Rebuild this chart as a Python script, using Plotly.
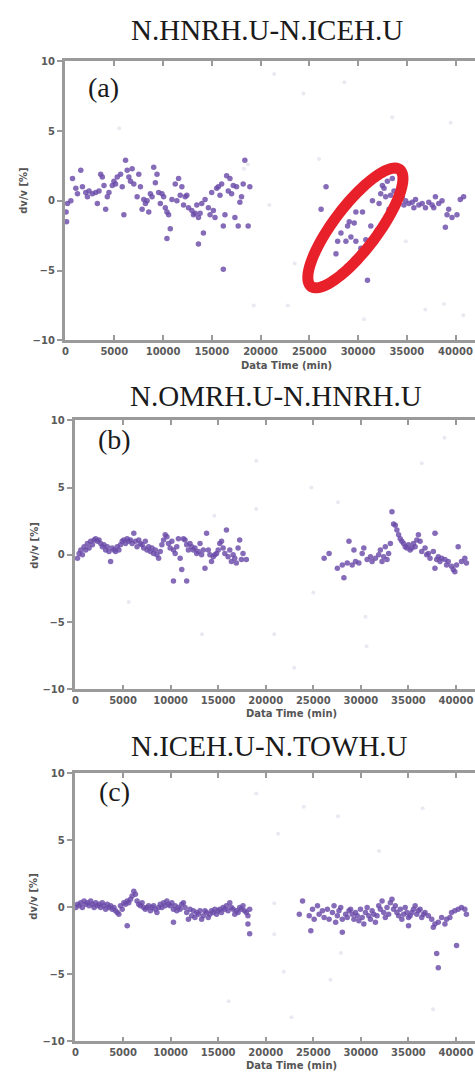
import numpy as np
import plotly.graph_objects as go

W, H = 475, 1077

panel_titles = ["N.HNRH.U-N.ICEH.U", "N.OMRH.U-N.HNRH.U", "N.ICEH.U-N.TOWH.U"]
panel_tags = ["(a)", "(b)", "(c)"]
x_title = "Data Time (min)"
y_title = "dv/v [%]"
x_tickvals = [0, 5000, 10000, 15000, 20000, 25000, 30000, 35000, 40000]
y_tickvals = [-10, -5, 0, 5, 10]

# ---- panel (a) data: (time [min], dv/v [%]) ----
a_points = [
    (200, -0.2), (50, -0.8), (100, -1.5), (540, 0.0), (710, 1.6), (1050, 0.9), (1560, 2.2), (1220, 0.5),
    (1730, 1.0), (2070, 0.6), (2240, 0.3), (2410, 0.7), (2750, 0.5), (3090, 0.6), (3260, -0.2), (3430, 0.7),
    (3600, 1.9), (3770, 1.7), (3940, 1.1), (4110, -0.6), (4280, 0.3), (4450, 0.6), (4790, 1.1), (4960, 1.4),
    (5130, 1.2), (5300, 1.7), (5640, 1.9), (5810, 1.0), (5980, -1.0), (6150, 2.9), (6320, 2.2), (6490, 1.7),
    (6660, 1.4), (6830, 2.3), (7000, 1.2), (7340, 0.3), (7510, 1.9), (7680, 1.0), (7850, -0.6), (8020, 0.1),
    (8190, -0.2), (8360, 0.0), (8530, -0.8), (8700, 0.5), (8870, 0.3), (9040, 2.4), (9210, 1.3), (9380, 1.9),
    (9550, 0.6), (9720, -0.2), (9890, 0.5), (10060, 0.3), (10230, -0.5), (10400, -0.8), (10570, -1.0),
    (10740, -2.0), (10400, -2.7), (10910, 0.1), (11250, 1.2), (11420, 0.0), (11590, 1.6), (11760, 0.4),
    (11930, 1.0), (12100, -0.3), (12270, 0.3), (12440, 0.4), (12610, -0.5), (12950, -0.7), (13120, -1.0),
    (13290, -0.9), (13460, -0.3), (13630, -3.1), (13630, -1.2), (13800, -0.9), (13970, -0.2), (14140, -2.3),
    (14310, 0.1), (14650, -0.5), (14820, -1.0), (14990, 0.6), (15160, -0.7), (15330, -1.2), (15500, 0.9),
    (15670, 1.0), (15840, 0.4), (16010, 1.2), (16180, -1.8), (16350, -1.0), (16520, 1.8), (16690, 0.7),
    (16860, 1.6), (17030, 0.5), (17200, 1.1), (17370, -1.2), (17540, 1.0), (17710, -1.8), (17880, -0.1),
    (18050, 0.3), (18220, 1.2), (18390, 2.9), (18730, -1.8), (18900, 1.0), (16180, -4.9),
    (26720, 1.0), (26210, -0.6), (29100, -1.5), (28930, -1.8), (29610, -1.6), (29780, -0.8), (29270, -2.6),
    (28250, -2.3), (27910, -2.9), (28760, -2.9), (29780, -2.9), (30290, -3.4), (30800, -2.8), (30460, -0.8),
    (31310, -1.8), (31480, 0.0), (31990, -2.1), (32160, -0.2), (32330, 0.5), (32500, 1.1), (32670, 0.9),
    (32840, 0.3), (33010, 1.4), (33350, 0.4), (33520, 1.6), (33690, 0.7), (33180, -0.6), (30970, -5.7),
    (28420, -5.1), (27740, -3.8), (33860, -0.5), (34540, 0.3), (34880, 0.0), (35220, -0.2), (35560, -0.1),
    (35900, 0.1), (36240, -0.3), (36580, -0.2), (36920, -0.5), (37260, -0.1), (37600, -0.3), (37940, 0.3),
    (38280, -0.2), (38620, 0.0), (39130, -1.0), (39300, -0.6), (39640, -1.2), (40150, -1.0), (40490, 0.1),
    (40830, 0.3), (38960, -1.9), (34200, 0.1), (34710, -0.3), (35730, -0.5), (37770, -0.5),
]
a_faint = [
    (5500, 5.2), (19300, -7.5), (20900, -0.3), (21400, 9.1), (28600, 8.5), (33500, 6.0), (39500, 5.6),
    (34900, -2.9), (38800, -7.4), (36900, -7.8), (22800, -7.5), (40800, -8.2), (24400, 7.7), (30600, -8.5),
    (18300, 2.3), (18700, 2.6), (26000, 3.0), (23500, -4.5),
]

# ---- panel (b) data ----
b_points = [
    (210, -0.25), (380, 0.1), (560, 0.35), (730, 0.0), (900, 0.6), (1080, 0.35), (1250, 0.85), (1430, 0.5),
    (1600, 1.0), (1780, 0.75), (1950, 1.1), (2120, 1.2), (2300, 1.0), (2470, 1.1), (2650, 0.85), (2820, 0.6),
    (2990, 0.75), (3170, 0.35), (3340, 0.6), (3520, 0.25), (3690, -0.5), (3860, 0.5), (4040, 0.35), (4210, 0.25),
    (4390, 0.6), (4560, 0.35), (4730, 0.75), (4910, 1.0), (5080, 1.1), (5260, 0.85), (5430, 1.2), (5600, 1.0),
    (5780, 1.1), (5950, 0.85), (6130, 1.6), (6300, 1.0), (6470, 0.6), (6650, 1.1), (6820, 0.85), (7000, 0.75),
    (7170, 0.5), (7340, 1.0), (7520, 0.35), (7690, 0.6), (7870, 0.25), (8040, 0.5), (8210, 0.1), (8390, 0.35),
    (8560, 0.0), (8740, -0.25), (8910, 0.25), (9080, 0.75), (9260, 1.1), (9430, 1.5), (9610, 1.35), (9780, 0.85),
    (9950, 0.5), (10130, 1.0), (10300, -1.95), (10300, 0.35), (10480, 0.1), (10650, 0.6), (10820, 1.2),
    (11000, -0.25), (11170, -1.1), (11350, 1.2), (11520, 1.1), (11690, -1.95), (11690, 0.75), (11870, 0.35),
    (12040, 0.85), (12220, 0.6), (12390, 0.35), (12560, 0.5), (12740, 0.1), (12910, 0.25), (13090, 0.85),
    (13260, 0.0), (13430, 0.35), (13610, -1.0), (13780, 1.6), (13960, 0.35), (14130, 0.0), (14300, -0.5),
    (14480, -0.15), (14650, 0.0), (14830, 0.1), (15000, 0.35), (15170, 0.85), (15350, 1.0), (15520, 0.5),
    (15700, 0.1), (15870, 1.85), (16040, -0.15), (16220, 0.35), (16390, -0.5), (16570, 0.0), (16740, -0.25),
    (16910, -0.6), (17090, 0.5), (17260, 1.1), (17440, -0.35), (17610, 0.1), (17960, -0.35),
    (26140, -0.25), (26660, 0.1), (27530, -1.0), (28050, -0.75), (28570, -0.6), (29090, -0.75), (29440, -0.5),
    (29790, -0.6), (30140, 0.1), (30310, 0.5), (29270, 0.35), (28750, 1.0), (28220, -1.7), (30660, -0.35),
    (31010, -0.15), (31180, -0.5), (31530, -0.25), (31880, 0.0), (32050, 0.35), (32230, -0.5), (32400, -0.15),
    (32570, 0.6), (32750, -0.35), (32920, 0.1), (33100, 0.85), (33270, 3.2), (33440, 2.3), (33620, 2.2),
    (33790, 1.85), (33970, 1.5), (34140, 1.2), (34310, 1.0), (34490, 0.85), (34660, 0.6), (34840, 0.5),
    (35010, 0.75), (35180, 0.35), (35360, 0.5), (35530, 0.85), (35710, 0.6), (35880, 1.1), (36050, 1.5),
    (36230, 1.0), (36400, 0.25), (36750, 0.5), (36920, 0.0), (37100, 0.1), (37270, -0.25), (37620, 0.25),
    (37790, 1.6), (37970, -0.35), (38140, -0.15), (38320, -0.5), (38490, -0.25), (38840, -0.35), (39010, -0.75),
    (39190, -0.5), (39530, -0.85), (39710, -1.1), (40060, -0.75), (40230, 0.6), (40580, -0.5), (40930, -0.25),
    (41100, -0.6), (39880, -1.25), (37790, -1.0),
]
b_faint = [
    (14600, 2.9), (19000, 3.4), (19000, 7.0), (25000, -2.8), (30500, -4.6), (30600, -6.8), (36400, 6.8),
    (38800, 8.7), (5600, -3.5), (13300, -5.9), (23000, -8.4), (20900, -5.9), (27600, 3.9), (24800, 5.0),
    (38000, 1.6),
]

# ---- panel (c) data ----
c_points = [
    (35, -0.02), (210, 0.23), (380, 0.11), (560, 0.35), (730, -0.02), (900, 0.47), (1080, 0.23), (1250, 0.35),
    (1430, 0.11), (1600, 0.47), (1780, 0.23), (1950, -0.02), (2120, 0.35), (2300, 0.11), (2470, 0.23),
    (2650, -0.02), (2820, 0.35), (2990, 0.11), (3170, -0.14), (3340, 0.23), (3520, -0.02), (3690, 0.11),
    (3860, -0.14), (4040, -0.02), (4210, -0.26), (4390, -0.39), (4560, -0.51), (4730, 0.11), (4910, -0.14),
    (5080, 0.35), (5260, 0.23), (5430, 0.47), (5600, 0.35), (5780, 0.6), (5950, 0.84), (6130, 1.21),
    (6300, 0.97), (6470, 0.47), (6650, 0.23), (6820, 0.11), (7000, 0.35), (7170, -0.02), (7340, -0.14),
    (7520, -0.02), (7690, 0.11), (7870, -0.26), (8040, -0.02), (8210, 0.11), (8390, -0.14), (8560, -0.39),
    (8740, -0.02), (8910, 0.23), (9080, -0.02), (9260, 0.35), (9430, 0.11), (9610, 0.47), (9780, 0.23),
    (9950, 0.11), (10130, 0.35), (10300, -0.14), (10480, 0.11), (10650, -0.26), (10820, -0.02), (11000, -0.14),
    (11170, 0.23), (11350, 0.35), (11520, -0.02), (11690, -0.39), (11870, -0.88), (12040, -0.14), (12220, -0.63),
    (12390, -0.26), (12560, -0.76), (12740, -0.39), (12910, -0.51), (13090, -0.26), (13260, -0.88),
    (13430, -0.63), (13610, -0.26), (13780, -0.39), (13960, -0.76), (14130, -0.51), (14300, -0.26),
    (14480, -0.39), (14650, -0.14), (14830, -0.51), (15000, -0.26), (15170, -0.14), (15350, -0.39),
    (15520, -0.02), (15700, -0.14), (15870, 0.11), (16040, -0.26), (16220, 0.35), (16390, -0.02),
    (16570, -0.14), (16740, -0.51), (16910, -0.26), (17090, -0.39), (17260, -0.02), (17440, -0.14),
    (17610, 0.11), (17780, -0.26), (17960, -0.39), (18130, -0.63), (18310, -0.14), (18130, -1.25),
    (18310, -1.98), (5430, -1.37), (10300, -1.12),
    (23530, -0.51), (23870, 0.47), (24570, -0.63), (24920, -0.14), (25090, -0.88), (25440, 0.11), (25610, -0.51),
    (25960, -0.26), (26140, -0.76), (26480, -0.14), (26660, -0.88), (27010, -0.39), (27180, 0.11), (27350, -1.12),
    (27530, -0.63), (27700, -0.26), (27880, -0.02), (28050, -0.88), (28400, -0.51), (28570, -0.76), (28750, -0.26),
    (28920, -0.14), (29090, -0.51), (29270, -0.88), (29440, -0.39), (29620, -0.63), (29790, -1.0), (29960, -0.14),
    (30140, -0.76), (30310, -1.25), (30490, -0.39), (30660, -0.02), (30830, -0.63), (31010, -0.88), (31180, -0.26),
    (31360, -0.51), (31530, -1.12), (31700, -0.63), (31880, 0.11), (32050, -0.14), (32230, 0.47), (32400, -0.39),
    (32570, -0.76), (32750, -0.02), (32920, -0.51), (33100, 0.35), (33270, 0.6), (33440, -0.14), (33620, 0.11),
    (33790, -0.39), (33970, -0.63), (34140, -0.14), (34310, -0.88), (34490, -0.51), (34660, -0.02), (34840, -0.39),
    (35010, -0.76), (35180, -0.63), (35360, -0.39), (35530, -0.14), (35710, 0.11), (35880, -0.51), (36050, -0.26),
    (36230, -0.14), (36400, -0.76), (36580, -0.51), (36750, -0.39), (37100, -0.63), (37450, -0.88), (37620, -1.49),
    (37790, -1.25), (38140, -1.12), (38490, -0.76), (38840, -1.25), (39010, -0.88), (39360, -0.76), (39530, -0.39),
    (39880, -0.26), (40230, -0.14), (40580, -0.02), (40930, -0.14), (41100, -0.51), (40060, -2.85), (37970, -3.45),
    (38140, -4.5), (24740, -1.74), (28050, -1.86), (35010, -1.37),
]
c_faint = [
    (19000, 8.5), (24000, 7.5), (21300, 5.5), (36500, 7.4), (27600, 6.8), (21900, -4.8), (16100, -7.0),
    (22700, -8.2), (27900, -3.4), (26800, -5.4), (37600, -7.6), (5600, -1.4), (31900, 4.2), (20900, -2.0),
    (20900, 0.3),
]

all_points = [a_points, b_points, c_points]
all_faint = [a_faint, b_faint, c_faint]

# ---- layout geometry (pixels) ----
panels = [
    dict(left=62, top=56, bottom=338, title=(266, 24), tag=(101, 82), ytitle=(21, 186), xtitle=(285, 364)),
    dict(left=72, top=419, bottom=691, title=(275, 394), tag=(112, 438), ytitle=(32, 545), xtitle=(290, 715)),
    dict(left=72, top=776, bottom=1047, title=(268, 748), tag=(112, 794), ytitle=(31, 900), xtitle=(290, 1071)),
]
x_range = [-100, 42000]
y_range = [-10, 10]

point_color = "#6a4aa8"
faint_color = "#c4bed4"
frame_color = "#9a9a9a"
tick_font = dict(family="DejaVu Sans", size=10, color="#5a5a5a", weight="bold")
serif = "Liberation Serif, Times New Roman, serif"

fig = go.Figure()
layout = dict(
    width=W, height=H, margin=dict(l=0, r=0, t=0, b=0),
    paper_bgcolor="white", plot_bgcolor="white", showlegend=False,
)
annotations = []

for i, (p, pts, fpts) in enumerate(zip(panels, all_points, all_faint)):
    k = "" if i == 0 else str(i + 1)
    xa, ya = "x" + k, "y" + k
    fx, fy = zip(*fpts)
    fig.add_trace(go.Scatter(x=fx, y=fy, xaxis=xa, yaxis=ya, mode="markers",
                             marker=dict(size=4, color=faint_color, opacity=0.35), hoverinfo="skip"))
    px_, py_ = zip(*pts)
    fig.add_trace(go.Scatter(x=px_, y=py_, xaxis=xa, yaxis=ya, mode="markers",
                             marker=dict(size=5.5, color=point_color, opacity=0.82, line=dict(width=0))))
    layout["xaxis" + k] = dict(
        domain=[p["left"] / W, 1], range=x_range, anchor=ya,
        showline=True, linecolor=frame_color, linewidth=2.5, mirror="ticks",
        ticks="inside", ticklen=5, tickwidth=1.5, tickcolor=frame_color,
        tickvals=x_tickvals, ticktext=[str(v) for v in x_tickvals], tickfont=tick_font,
        showgrid=False, zeroline=False,
    )
    layout["yaxis" + k] = dict(
        domain=[1 - p["bottom"] / H, 1 - p["top"] / H], range=y_range, anchor=xa,
        showline=True, linecolor=frame_color, linewidth=2.5, mirror=False,
        ticks="outside", ticklen=5, tickwidth=1.5, tickcolor=frame_color,
        tickvals=y_tickvals, tickfont=tick_font,
        showgrid=False, zeroline=False,
    )
    annotations.append(dict(text=panel_titles[i], x=p["title"][0] / W, y=1 - p["title"][1] / H,
                            xref="paper", yref="paper", showarrow=False, xanchor="center", yanchor="middle",
                            font=dict(family=serif, size=29, color="#1a1a1a")))
    annotations.append(dict(text=panel_tags[i], x=p["tag"][0] / W, y=1 - p["tag"][1] / H,
                            xref="paper", yref="paper", showarrow=False, xanchor="center", yanchor="middle",
                            font=dict(family=serif, size=28, color="#1a1a1a")))
    annotations.append(dict(text=y_title, x=p["ytitle"][0] / W, y=1 - p["ytitle"][1] / H,
                            xref="paper", yref="paper", showarrow=False, xanchor="center", yanchor="middle",
                            textangle=-90, font=dict(family="DejaVu Sans", size=10, color="#555", weight="bold")))
    annotations.append(dict(text=x_title, x=p["xtitle"][0] / W, y=1 - p["xtitle"][1] / H,
                            xref="paper", yref="paper", showarrow=False, xanchor="center", yanchor="middle",
                            font=dict(family="DejaVu Sans", size=10, color="#555", weight="bold")))

layout["annotations"] = annotations

# ---- red highlight ellipse in panel (a) (centre in data units, axes in pixels) ----
p0 = panels[0]
px_per_x = (W - p0["left"]) / (x_range[1] - x_range[0])
px_per_y = (p0["bottom"] - p0["top"]) / (y_range[1] - y_range[0])
ell_cx, ell_cy = 29730, -1.95
ell_a, ell_b, ell_theta = 74, 22, np.deg2rad(53)
t = np.linspace(0, 2 * np.pi, 90)
u, v = ell_a * np.cos(t), ell_b * np.sin(t)
dx = u * np.cos(ell_theta) - v * np.sin(ell_theta)
dy = u * np.sin(ell_theta) + v * np.cos(ell_theta)
ex = ell_cx + dx / px_per_x
ey = ell_cy + dy / px_per_y
path = "M " + " L ".join(f"{a:.1f},{b:.3f}" for a, b in zip(ex, ey)) + " Z"
layout["shapes"] = [dict(type="path", path=path, xref="x", yref="y",
                         line=dict(color="#e8202a", width=11), layer="above")]

fig.update_layout(**layout)
fig.write_html("out.html")
